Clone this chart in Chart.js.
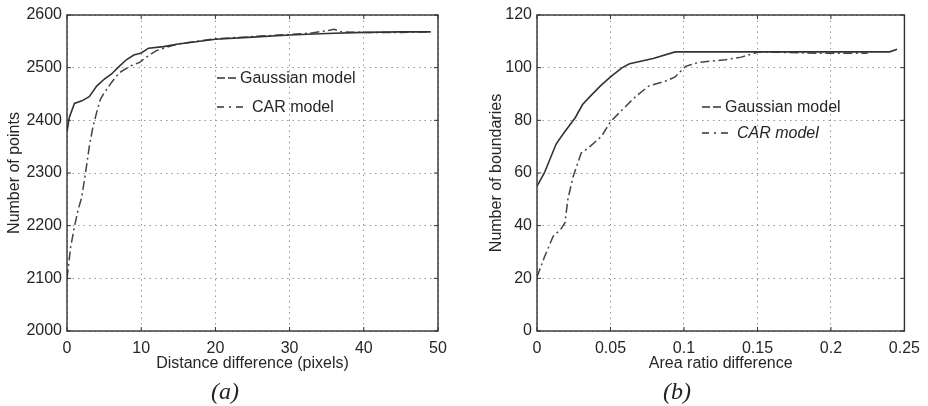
<!DOCTYPE html>
<html>
<head>
<meta charset="utf-8">
<script src="https://cdn.jsdelivr.net/npm/chart.js@4/dist/chart.umd.min.js"></script>
<style>
	body { margin: 0; background: #fff; }
	.panel { position: absolute; top: 0; width: 464px; height: 406px; }
	#panelA { left: 0; }
	#panelB { left: 464px; }
</style>
</head>
<body>
<div class="panel" id="panelA"><canvas id="chartA"></canvas></div>
<div class="panel" id="panelB"><canvas id="chartB"></canvas></div>
<script>
// (a) distance difference vs number of points
const distGauss = [0, 0.3, 1.0, 2.0, 3.0, 4.0, 5.0, 6.0, 7.0, 8.0, 9.0, 10.0, 11.0, 13, 15, 20, 25, 30, 35, 40, 45, 49];
const pointsGauss = [2378, 2405, 2432, 2437, 2445, 2465, 2478, 2488, 2502, 2515, 2524, 2528, 2537, 2540, 2545, 2554, 2558, 2562, 2565, 2567, 2568, 2568];
const distCar = [0, 0.5, 1.0, 1.5, 2.0, 2.6, 3.0, 3.5, 4.0, 4.5, 5.0, 6.0, 7.0, 8.5, 9.8, 10.5, 12.0, 13.0, 15, 20, 25, 30, 33, 35, 36, 37, 40, 45, 49];
const pointsCar = [2100, 2160, 2198, 2230, 2255, 2310, 2350, 2388, 2415, 2440, 2452, 2472, 2490, 2503, 2510, 2518, 2532, 2537, 2545, 2555, 2559, 2563, 2566, 2570, 2573, 2568, 2567, 2567, 2568];
const xTicksA = [0, 10, 20, 30, 40, 50];
const yTicksA = [2000, 2100, 2200, 2300, 2400, 2500, 2600];

// (b) area ratio difference vs number of boundaries
const ratioGauss = [0, 0.005, 0.013, 0.018, 0.026, 0.031, 0.036, 0.043, 0.05, 0.058, 0.063, 0.079, 0.094, 0.15, 0.2, 0.24, 0.245];
const boundGauss = [55, 60, 71, 75, 81, 86, 89, 93, 96.5, 100, 101.5, 103.5, 106, 106, 106, 106, 107];
const ratioCar = [0, 0.005, 0.011, 0.016, 0.019, 0.021, 0.0245, 0.030, 0.036, 0.044, 0.050, 0.058, 0.067, 0.076, 0.088, 0.094, 0.101, 0.110, 0.128, 0.139, 0.151, 0.19, 0.225];
const boundCar = [20.5, 28, 36, 38.5, 41, 50, 58.5, 67.5, 70, 74, 79.5, 84, 89, 93, 95, 96.5, 100.5, 102, 103, 104, 106, 105.5, 105.5];
const xTicksB = [0, 0.05, 0.1, 0.15, 0.2, 0.25];
const yTicksB = [0, 20, 40, 60, 80, 100, 120];

const seriesNames = ['Gaussian model', 'CAR model'];

const FONT = "'Liberation Sans', Arial, Helvetica, sans-serif";
const INK = '#262626';
const CAR_DASH = [9, 3.5, 2, 3.5];

function toPoints(xs, ys) {
	return xs.map((x, i) => ({ x: x, y: ys[i] }));
}

// box, inward ticks, legend and caption
const framePlugin = {
	id: 'frame',
	afterDatasetsDraw(chart, args, opts) {
		const ctx = chart.ctx;
		const a = chart.chartArea;
		const xs = chart.scales.x;
		const ys = chart.scales.y;
		ctx.save();
		ctx.strokeStyle = '#333';
		ctx.lineWidth = 1.4;
		ctx.setLineDash([]);
		ctx.strokeRect(a.left, a.top, a.right - a.left, a.bottom - a.top);

		ctx.lineWidth = 1;
		ctx.beginPath();
		xs.ticks.forEach(t => {
			const px = xs.getPixelForValue(t.value);
			ctx.moveTo(px, a.bottom); ctx.lineTo(px, a.bottom - 4);
			ctx.moveTo(px, a.top); ctx.lineTo(px, a.top + 4);
		});
		ys.ticks.forEach(t => {
			const py = ys.getPixelForValue(t.value);
			ctx.moveTo(a.left, py); ctx.lineTo(a.left + 4, py);
			ctx.moveTo(a.right, py); ctx.lineTo(a.right - 4, py);
		});
		ctx.stroke();

		// legend
		const lx = a.left + opts.legendX;
		const ly = a.top + opts.legendY;
		ctx.fillStyle = INK;
		ctx.textBaseline = 'middle';
		ctx.textAlign = 'left';
		ctx.lineWidth = 1.5;

		ctx.strokeStyle = '#333';
		ctx.setLineDash([8, 3]);
		ctx.beginPath();
		ctx.moveTo(lx, ly); ctx.lineTo(lx + 19, ly);
		ctx.stroke();
		ctx.setLineDash([]);
		ctx.font = '16px ' + FONT;
		ctx.fillText(seriesNames[0], lx + 23, ly + 1);

		const ly2 = ly + opts.legendGap;
		ctx.setLineDash([7, 5, 2, 5]);
		ctx.beginPath();
		ctx.moveTo(lx, ly2); ctx.lineTo(lx + 29, ly2);
		ctx.stroke();
		ctx.setLineDash([]);
		ctx.font = (opts.italicCar ? 'italic ' : '') + '16px ' + FONT;
		ctx.fillText(seriesNames[1], lx + 35, ly2 + 1);

		// caption
		ctx.font = "italic 24px 'Liberation Serif', 'Times New Roman', serif";
		ctx.textAlign = 'center';
		ctx.textBaseline = 'alphabetic';
		ctx.fillStyle = '#222';
		ctx.fillText(opts.caption, opts.captionX, 399);
		ctx.restore();
	}
};

function makeChart(canvasId, cfg) {
	const ctx = document.getElementById(canvasId).getContext('2d');
	const gridStyle = {
		color: '#999',
		lineWidth: 1,
		drawTicks: false,
	};
	return new Chart(ctx, {
		type: 'scatter',
		data: {
			datasets: [
				{
					label: seriesNames[0],
					data: cfg.gauss,
					showLine: true,
					borderColor: '#333',
					borderWidth: 1.6,
					pointRadius: 0,
					tension: 0,
				},
				{
					label: seriesNames[1],
					data: cfg.car,
					showLine: true,
					borderColor: '#444',
					borderWidth: 1.5,
					borderDash: CAR_DASH,
					pointRadius: 0,
					tension: 0,
				},
			],
		},
		options: {
			responsive: true,
			maintainAspectRatio: false,
			animation: false,
			events: [],
			layout: { padding: { left: 0, right: cfg.padRight, top: 15, bottom: 0 } },
			plugins: {
				legend: { display: false },
				tooltip: { enabled: false },
				frame: cfg.frame,
			},
			scales: {
				x: {
					type: 'linear',
					min: cfg.xTicks[0],
					max: cfg.xTicks[cfg.xTicks.length - 1],
					afterBuildTicks: s => { s.ticks = cfg.xTicks.map(v => ({ value: v })); },
					afterFit: s => { s.height = 75; },
					grid: gridStyle,
					border: { display: false, dash: [1.5, 4] },
					ticks: {
						color: INK,
						padding: 8,
						maxRotation: 0,
						font: { family: FONT, size: 16 },
						callback: v => String(v),
					},
					title: {
						display: true,
						text: cfg.xTitle,
						color: INK,
						font: { family: FONT, size: 16, lineHeight: 1.2 },
						padding: { top: 0, bottom: 33 },
					},
				},
				y: {
					type: 'linear',
					min: cfg.yTicks[0],
					max: cfg.yTicks[cfg.yTicks.length - 1],
					afterBuildTicks: s => { s.ticks = cfg.yTicks.map(v => ({ value: v })); },
					afterFit: s => { s.width = cfg.yWidth; },
					grid: gridStyle,
					border: { display: false, dash: [1.5, 4] },
					ticks: {
						color: INK,
						padding: 5,
						font: { family: FONT, size: 16 },
						callback: v => String(v),
					},
					title: {
						display: true,
						text: cfg.yTitle,
						color: INK,
						font: { family: FONT, size: 16, lineHeight: 1.2 },
						padding: { top: cfg.yTitlePad, bottom: 0 },
					},
				},
			},
		},
		plugins: [framePlugin],
	});
}

makeChart('chartA', {
	gauss: toPoints(distGauss, pointsGauss),
	car: toPoints(distCar, pointsCar),
	xTicks: xTicksA,
	yTicks: yTicksA,
	xTitle: 'Distance difference (pixels)',
	yTitle: 'Number of points',
	yWidth: 67,
	padRight: 26,
	yTitlePad: 5,
	frame: { legendX: 150, legendY: 63, legendGap: 29, italicCar: false, caption: '(a)', captionX: 225 },
});

makeChart('chartB', {
	gauss: toPoints(ratioGauss, boundGauss),
	car: toPoints(ratioCar, boundCar),
	xTicks: xTicksB,
	yTicks: yTicksB,
	xTitle: 'Area ratio difference',
	yTitle: 'Number of boundaries',
	yWidth: 73,
	padRight: 21,
	yTitlePad: 23,
	frame: { legendX: 165, legendY: 92, legendGap: 26, italicCar: true, caption: '(b)', captionX: 213 },
});
</script>
</body>
</html>
